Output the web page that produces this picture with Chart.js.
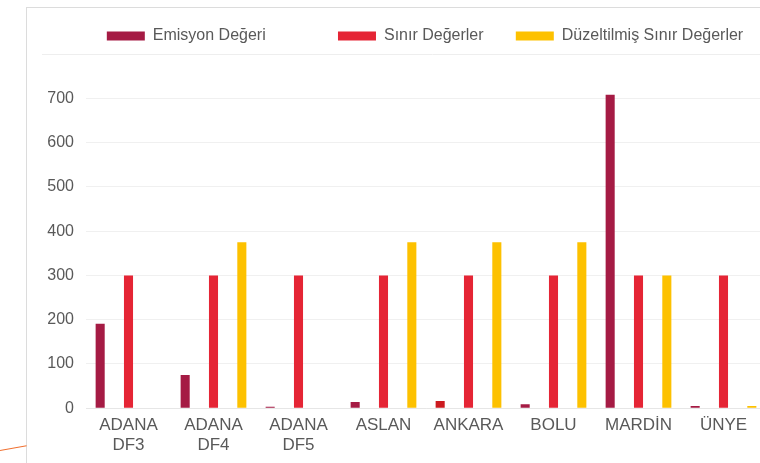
<!DOCTYPE html>
<html>
<head>
<meta charset="utf-8">
<script src="https://cdn.jsdelivr.net/npm/chart.js@4/dist/chart.umd.min.js"></script>
<style>
  html, body { margin: 0; padding: 0; background: #fff; overflow: hidden; }
  body { width: 760px; height: 463px; position: relative; }
  .frame {
    position: absolute; left: 26px; top: 7px; width: 800px; height: 470px;
    border-left: 1px solid #dcdcdc; border-top: 1px solid #dcdcdc;
  }
  .box { position: absolute; left: 27px; top: 8px; width: 796px; height: 455px; }
  .accent {
    position: absolute; left: 0; top: 450px; width: 27px; height: 1px;
    background: #f07030; transform: rotate(-10deg); transform-origin: left center;
  }
</style>
</head>
<body>
<div class="frame"></div>
<div class="accent"></div>
<div class="box"><canvas id="emisyonChart"></canvas></div>
<script>
const categories = [["ADANA", "DF3"], ["ADANA", "DF4"], ["ADANA", "DF5"], "ASLAN", "ANKARA", "BOLU", "MARDİN", "ÜNYE"];
const emisyon = [191, 75, 3, 14, 16, 9, 708, 5];
const sinir = [300, 300, 300, 300, 300, 300, 300, 300];
const duzeltilmis = [null, 375, null, 375, 375, 375, 300, 5];
const yTicks = [0, 100, 200, 300, 400, 500, 600, 700];

const maroon = "#a51b44";
const emisyonColors = emisyon.map((v, i) => i === 4 ? "#cc1a1f" : maroon);

Chart.defaults.font.family = "'Liberation Sans', Arial, sans-serif";
Chart.defaults.color = "#595959";

// thin rule under the legend, running wider than the plot
const legendRule = {
  id: "legendRule",
  beforeDatasetsDraw(chart) {
    const ctx = chart.ctx;
    const y = Math.round(chart.scales.y.getPixelForValue(800)) + 0.5;
    ctx.save();
    ctx.strokeStyle = "#eeeeee";
    ctx.lineWidth = 1;
    ctx.beginPath();
    ctx.moveTo(15, y);
    ctx.lineTo(chart.width, y);
    ctx.stroke();
    ctx.restore();
  }
};

const ctx = document.getElementById("emisyonChart").getContext("2d");
new Chart(ctx, {
  type: "bar",
  data: {
    labels: categories,
    datasets: [
      { label: "Emisyon Değeri" + " ".repeat(14), data: emisyon, backgroundColor: emisyonColors },
      { label: "Sınır Değerler" + " ".repeat(5), data: sinir, backgroundColor: "#e52535" },
      { label: "Düzeltilmiş Sınır Değerler", data: duzeltilmis, backgroundColor: "#fdc100" }
    ]
  },
  options: {
    responsive: true,
    maintainAspectRatio: false,
    animation: false,
    layout: { padding: { top: 10, bottom: 0, left: 0, right: 0 } },
    datasets: { bar: { barPercentage: 0.32, categoryPercentage: 1 } },
    plugins: {
      legend: {
        position: "top",
        labels: { boxWidth: 38, boxHeight: 9, padding: 10, font: { size: 16 }, color: "#595959" }
      },
      tooltip: { enabled: false }
    },
    scales: {
      x: {
        grid: { display: false, drawTicks: false },
        border: { display: true, color: "#e6e6e6" },
        ticks: { padding: 7, font: { size: 17 }, color: "#595959", maxRotation: 0, autoSkip: false }
      },
      y: {
        min: 0,
        max: 800,
        afterFit: s => { s.width = 59; },
        grid: {
          drawTicks: false,
          color: c => (c.tick && c.tick.value === 800) ? "rgba(0,0,0,0)" : "#f0f0f0"
        },
        border: { display: false },
        ticks: {
          stepSize: 100,
          padding: 12,
          font: { size: 16 },
          color: "#595959",
          callback: v => yTicks.includes(v) ? v : ""
        }
      },
      y2: {
        position: "right",
        afterFit: s => { s.width = 57; },
        grid: { display: false },
        border: { display: false },
        ticks: { display: false }
      }
    }
  },
  plugins: [legendRule]
});
</script>
</body>
</html>
